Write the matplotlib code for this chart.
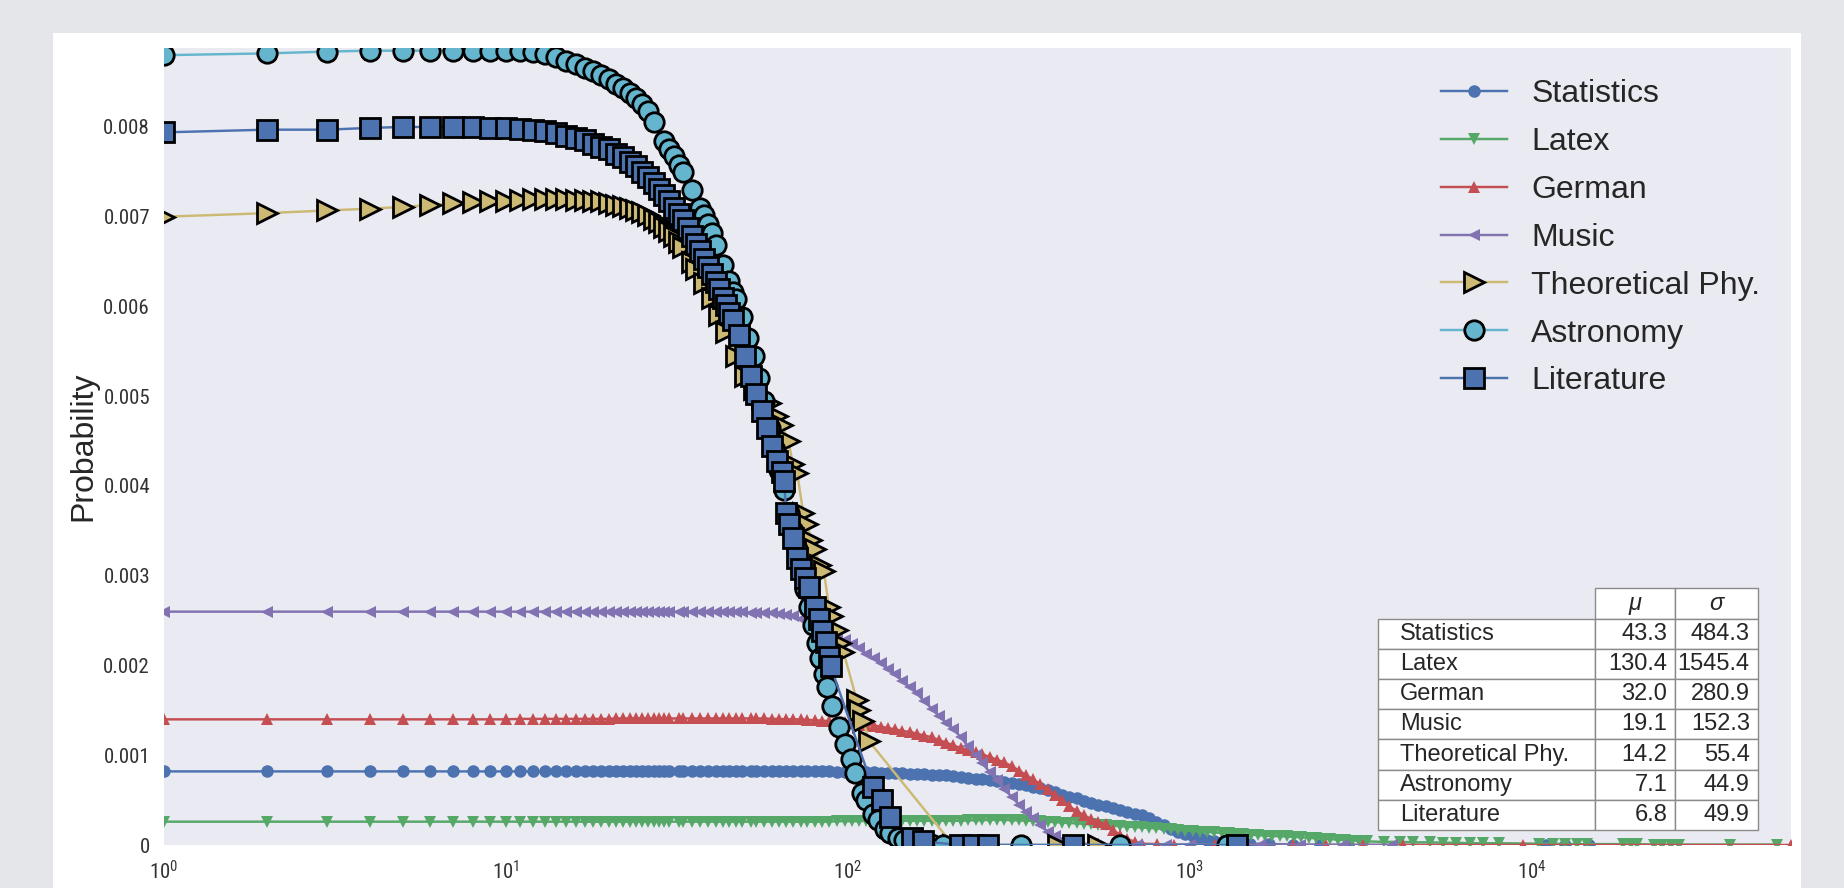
"""Probability curves per site (log x) with a small mu/sigma table, seaborn-dark look."""
import matplotlib
matplotlib.use("Agg")
import matplotlib.pyplot as plt
from matplotlib import font_manager
from matplotlib.patches import Rectangle
from matplotlib.table import Table
from matplotlib.ticker import FuncFormatter, NullLocator

# all y values below are typed in units of 1e-4
SCALE = 1e-4

# integer x positions shared by the four small-marker series
X_GRID = list(range(1, 31)) + [
    32, 33, 35, 37, 39, 41, 43, 45, 47, 49,
    52, 54, 57, 60, 63, 66, 69, 73, 76, 80,
    84, 88, 93, 98, 103, 108, 113, 119, 125, 131,
    137, 144, 152, 159, 167, 176, 184, 194, 203, 214,
    224, 236, 247, 260, 273, 286, 301, 316, 331, 348,
    365, 384, 403, 423, 444, 466, 490, 514, 540, 567,
    595, 625, 656, 689, 724, 760, 798, 838, 880, 924,
    970, 1018, 1069, 1123, 1179, 1238, 1300, 1365, 1433, 1505,
    1580, 1659, 1742, 1829, 1920, 2016, 2117, 2223, 2334, 2451,
    2573, 2702, 2837, 2979, 3128,
]

STAT_Y = [
    8.2, 8.2, 8.2, 8.2, 8.2, 8.2, 8.2, 8.2, 8.2, 8.2,
    8.2, 8.2, 8.2, 8.2, 8.2, 8.2, 8.2, 8.2, 8.2, 8.2,
    8.2, 8.2, 8.2, 8.2, 8.2, 8.2, 8.2, 8.2, 8.2, 8.2,
    8.2, 8.2, 8.2, 8.2, 8.2, 8.2, 8.2, 8.2, 8.2, 8.2,
    8.2, 8.2, 8.2, 8.2, 8.2, 8.2, 8.2, 8.2, 8.2, 8.2,
    8.2, 8.2, 8.15, 8.15, 8.1, 8.1, 8.1, 8.1, 8.05, 8.05,
    8.0, 8.0, 7.95, 7.9, 7.9, 7.85, 7.8, 7.75, 7.7, 7.6,
    7.5, 7.4, 7.3, 7.2, 7.1, 7.0, 6.9, 6.8, 6.65, 6.5,
    6.3, 6.1, 5.9, 5.6, 5.4, 5.2, 4.9, 4.7, 4.5, 4.3,
    4.1, 3.9, 3.7, 3.5, 3.3, 3.0, 2.6, 2.2, 1.8, 1.5,
    1.2, 1.0, 0.8, 0.6, 0.45, 0.35, 0.25,
]
STAT_TAIL_X = [1500, 1700, 2000, 2400, 2900, 11000, 12500, 14700]
STAT_TAIL_Y = [0.15, 0.1, 0.05, 0.02, 0.0, 0.0, 0.0, 0.0]

LATEX_Y = [
    2.6, 2.6, 2.6, 2.6, 2.6, 2.6, 2.6, 2.6, 2.6, 2.6,
    2.6, 2.6, 2.6, 2.6, 2.6, 2.6, 2.6, 2.6, 2.6, 2.6,
    2.6, 2.6, 2.6, 2.6, 2.6, 2.6, 2.6, 2.6, 2.6, 2.6,
    2.6, 2.6, 2.6, 2.6, 2.6, 2.6, 2.6, 2.6, 2.6, 2.6,
    2.6, 2.6, 2.6, 2.6, 2.6, 2.6, 2.6, 2.6, 2.6, 2.6,
    2.6, 2.6, 2.65, 2.65, 2.65, 2.65, 2.7, 2.7, 2.7, 2.7,
    2.7, 2.7, 2.7, 2.7, 2.7, 2.7, 2.7, 2.7, 2.7, 2.7,
    2.75, 2.75, 2.75, 2.8, 2.8, 2.8, 2.75, 2.75, 2.7, 2.7,
    2.65, 2.6, 2.55, 2.5, 2.45, 2.4, 2.35, 2.3, 2.25, 2.2,
    2.15, 2.1, 2.05, 2.0, 1.95, 1.9, 1.85, 1.8, 1.75, 1.7,
    1.6, 1.55, 1.5, 1.45, 1.4, 1.35, 1.3, 1.25, 1.2, 1.15,
    1.1, 1.05, 1.0, 0.98, 0.95, 0.9, 0.85, 0.8, 0.75, 0.7,
    0.65, 0.6, 0.55, 0.5, 0.45,
]
LATEX_TAIL_X = [3290, 3700, 4110, 4500, 5030, 5500, 6000, 6600, 7200, 8000,
                10500, 11500, 12500, 13500, 14500, 18500, 19500, 20300,
                22700, 24000, 25500, 27000, 38000, 52000]
LATEX_TAIL_Y = [0.4, 0.35, 0.35, 0.3, 0.3, 0.25, 0.25, 0.2, 0.2, 0.2,
                0.15, 0.15, 0.1, 0.1, 0.1, 0.1, 0.1, 0.1,
                0.05, 0.05, 0.05, 0.05, 0.05, 0.05]

GERMAN_Y = [
    14.0, 14.0, 14.0, 14.0, 14.0, 14.0, 14.0, 14.0, 14.0, 14.0,
    14.05, 14.05, 14.05, 14.05, 14.05, 14.05, 14.05, 14.05, 14.05, 14.05,
    14.1, 14.1, 14.1, 14.1, 14.1, 14.1, 14.1, 14.1, 14.1, 14.1,
    14.1, 14.1, 14.1, 14.1, 14.1, 14.1, 14.1, 14.1, 14.1, 14.1,
    14.1, 14.1, 14.1, 14.05, 14.05, 14.0, 14.0, 14.0, 13.95, 13.9,
    13.85, 13.8, 13.7, 13.65, 13.6, 13.5, 13.4, 13.3, 13.2, 13.0,
    12.9, 12.7, 12.6, 12.4, 12.2, 12.0, 11.7, 11.4, 11.1, 10.8,
    10.6, 10.4, 10.1, 9.8, 9.5, 9.2, 8.8, 8.3, 7.8, 7.3,
    6.8, 6.2, 5.6, 5.0, 4.3, 3.8, 3.3, 2.9, 2.6, 2.3,
    1.7, 1.1, 0.7, 0.35, 0.15,
]
GERMAN_TAIL_X = [800, 900, 1018, 1180, 1400, 1650, 2000, 2500, 3200, 4200, 9400, 57200]
GERMAN_TAIL_Y = [0.1, 0.05, 0.05, 0.0, 0.05, 0.0, 0.0, 0.0, 0.0, 0.0, 0.0, 0.0]

MUSIC_Y = [
    26.0, 26.0, 26.0, 26.0, 26.0, 26.0, 26.0, 26.0, 26.0, 26.0,
    26.0, 26.0, 26.0, 26.0, 26.0, 26.0, 26.0, 26.0, 26.0, 26.0,
    26.0, 26.0, 26.0, 26.0, 26.0, 26.0, 26.0, 26.0, 26.0, 26.0,
    26.0, 26.0, 26.0, 26.0, 26.0, 26.0, 26.0, 26.0, 26.0, 26.0,
    25.9, 25.9, 25.8, 25.8, 25.7, 25.6, 25.5, 25.2, 24.8, 24.4,
    24.0, 23.6, 23.2, 22.8, 22.4, 21.9, 21.3, 20.8, 20.3, 19.6,
    19.0, 18.3, 17.6, 16.9, 16.0, 15.2, 14.4, 13.6, 12.9, 12.0,
    11.0, 10.0, 9.1, 8.1, 7.2, 6.2, 5.4, 4.5, 3.7, 3.0,
    2.2, 1.5, 1.0, 0.6, 0.35, 0.2,
]
MUSIC_TAIL_X = [520, 600, 700, 850, 1000, 1250, 1600, 2100, 2800, 3900]
MUSIC_TAIL_Y = [0.1, 0.05, 0.05, 0.0, 0.05, 0.0, 0.03, 0.0, 0.0, 0.0]

THEO_X = list(range(1, 34)) + [
    35, 36, 38, 40, 42, 44, 47, 50, 53, 56,
    59, 62, 64, 67, 69, 71, 74, 76, 78, 80,
    83, 85, 88, 90, 93, 95, 97, 106, 108, 111,
    115, 203, 410, 540,
]
THEO_Y = [
    70.0, 70.4, 70.7, 70.9, 71.1, 71.3, 71.5, 71.6, 71.7, 71.8,
    71.9, 72.0, 72.0, 72.0, 72.0, 71.9, 71.9, 71.8, 71.7, 71.5,
    71.3, 71.2, 71.0, 70.8, 70.5, 70.2, 69.8, 69.4, 68.9, 68.4,
    67.8, 67.2, 66.6,
    65.0, 64.2, 62.6, 61.0, 59.0, 57.2, 54.5, 52.2, 50.8, 49.8,
    49.2, 47.8, 46.8, 45.0, 42.4, 41.5, 37.0, 35.8, 34.0, 33.0,
    31.2, 30.5, 26.5, 25.5, 24.0, 22.5, 21.5, 16.2, 15.0, 13.8,
    11.6, 0.0, 0.0, 0.0,
]

ASTRO_X = list(range(1, 28)) + [
    29, 30, 31, 32, 33, 35, 37, 38, 39, 40,
    41, 43, 45, 46, 47, 49,
    51, 53, 55, 57, 59, 61, 63, 65, 67, 69,
    71, 73, 75, 77, 79, 81, 83, 85, 87,
    90, 94, 98, 102, 105, 110, 113, 118, 122, 128,
    133, 140, 146, 159, 175, 190,
    320, 624, 1283,
]
ASTRO_Y = [
    88.0, 88.2, 88.4, 88.5, 88.5, 88.5, 88.5, 88.5, 88.5, 88.5,
    88.5, 88.3, 88.1, 87.8, 87.4, 87.0, 86.6, 86.2, 85.8, 85.3,
    84.8, 84.3, 83.8, 83.2, 82.6, 81.8, 80.6,
    78.4, 77.6, 76.8, 75.8, 75.0, 73.0, 71.0, 70.2, 69.2, 68.2,
    66.9, 64.6, 62.8, 61.6, 60.8, 58.8,
    56.5, 54.5, 52.0, 49.5, 46.5, 44.0, 41.8, 39.5, 37.0, 35.0,
    33.0, 30.5, 28.5, 26.5, 24.5, 22.5, 20.8, 19.0, 17.6,
    15.5, 13.1, 11.2, 9.6, 8.0, 5.8, 5.0, 3.5, 2.8, 1.8,
    1.3, 0.8, 0.6, 0.2, 0.1, 0.05,
    0.0, 0.0, 0.0,
]

LIT_X = list(range(1, 47)) + [
    48, 50, 52, 54, 56, 58, 60, 62, 64, 65,
    66, 67, 69, 71, 73, 75, 77, 80, 82, 84,
    86, 88, 89, 118, 126, 133, 154, 166, 212, 232,
    257, 456, 1372,
]
LIT_Y = [
    79.4, 79.7, 79.7, 79.9, 80.0, 80.0, 80.0, 80.0, 79.9, 79.9,
    79.8, 79.7, 79.5, 79.3, 79.0, 78.8, 78.5, 78.1, 77.8, 77.5,
    77.0, 76.6, 76.1, 75.6, 75.0, 74.4, 73.8, 73.1, 72.4, 71.7,
    71.0, 70.3, 69.6, 68.7, 67.8, 67.0, 66.2, 65.3, 64.4, 63.6,
    62.7, 61.9, 61.0, 60.2, 59.3, 58.5,
    56.8, 54.5, 52.2, 50.2, 48.4, 46.5, 44.5, 42.8, 41.6, 40.6,
    37.0, 35.8, 34.2, 32.0, 30.8, 29.8, 28.8, 26.5, 25.2, 23.8,
    22.6, 21.0, 19.9, 6.5, 5.0, 3.1, 0.8, 0.4, 0.0, 0.0,
    0.0, 0.0, 0.0,
]

NAMES = ["Statistics", "Latex", "German", "Music",
         "Theoretical Phy.", "Astronomy", "Literature"]
MU = [43.3, 130.4, 32.0, 19.1, 14.2, 7.1, 6.8]
SIGMA = [484.3, 1545.4, 280.9, 152.3, 55.4, 44.9, 49.9]

YTICKS = [0, 0.001, 0.002, 0.003, 0.004, 0.005, 0.006, 0.007, 0.008]

# old seaborn "deep" palette
DEEP = ["#4C72B0", "#55A868", "#C44E52", "#8172B2", "#CCB974", "#64B5CD"]
TEXT = "#262626"
MAIN_FONT = "Liberation Sans"


def pick_tick_font():
    """The ticks in the original use a narrow sans; take one if installed."""
    fonts = font_manager.fontManager.ttflist
    names = {f.name for f in fonts}
    for n in ("Liberation Sans Narrow", "Roboto Condensed", "Open Sans Condensed",
              "Noto Sans Condensed", "DejaVu Sans Condensed"):
        if n in names:
            return n, "normal", 15
    for n in ("Liberation Sans", "Roboto", "Noto Sans", "Open Sans", "DejaVu Sans"):
        for f in fonts:
            if f.name == n and f.style == "normal" and f.stretch in ("condensed", "semi-condensed"):
                return n, f.stretch, 15
    return "Liberation Sans", "normal", 13


TICK_FONT, TICK_STRETCH, TICK_SIZE = pick_tick_font()
plt.rcParams["font.family"] = [TICK_FONT, "DejaVu Sans"]
plt.rcParams["font.stretch"] = TICK_STRETCH

W, H = 1844, 888
fig = plt.figure(figsize=(W / 100, H / 100), dpi=100, facecolor="#E5E6EA")
# white image area inside the grey page
fig.add_artist(Rectangle((53 / W, 0), (1801 - 53) / W, (H - 33) / H,
                         transform=fig.transFigure, facecolor="white",
                         edgecolor="none", zorder=-5))
ax = fig.add_axes([164 / W, (H - 845) / H, 1627 / W, 797 / H])
ax.set_facecolor("#EAEAF2")
for s in ax.spines.values():
    s.set_visible(False)


def scaled(vals):
    return [v * SCALE for v in vals]


small = [
    ("Statistics", X_GRID[:len(STAT_Y)] + STAT_TAIL_X, STAT_Y + STAT_TAIL_Y, "o", DEEP[0]),
    ("Latex", X_GRID[:len(LATEX_Y)] + LATEX_TAIL_X, LATEX_Y + LATEX_TAIL_Y, "v", DEEP[1]),
    ("German", X_GRID[:len(GERMAN_Y)] + GERMAN_TAIL_X, GERMAN_Y + GERMAN_TAIL_Y, "^", DEEP[2]),
    ("Music", X_GRID[:len(MUSIC_Y)] + MUSIC_TAIL_X, MUSIC_Y + MUSIC_TAIL_Y, "<", DEEP[3]),
]
big = [
    ("Theoretical Phy.", THEO_X, THEO_Y, ">", DEEP[4]),
    ("Astronomy", ASTRO_X, ASTRO_Y, "o", DEEP[5]),
    ("Literature", LIT_X, LIT_Y, "s", DEEP[0]),
]

for name, xs, ys, m, c in small:
    ax.plot(xs, scaled(ys), marker=m, ms=9, mew=0, lw=1.75, color=c, label=name)
for name, xs, ys, m, c in big:
    ax.plot(xs, scaled(ys), marker=m, ms=14, mew=2, mec="black", lw=1.75,
            color=c, label=name)

ax.set_xscale("log")
ax.set_xlim(1, 57200)
ax.set_ylim(0, 0.00888)
ax.xaxis.set_minor_locator(NullLocator())
ax.set_yticks(YTICKS)
ax.yaxis.set_major_formatter(FuncFormatter(lambda v, _: "0" if v == 0 else f"{v:.3f}"))
ax.tick_params(which="both", length=0, labelsize=TICK_SIZE, labelcolor="#333333")
ax.tick_params(axis="y", pad=10)
ax.tick_params(axis="x", pad=11)

ax.set_ylabel("Probability", fontsize=23, family=MAIN_FONT, stretch="normal", color=TEXT)
ax.yaxis.set_label_coords(-0.0406, 0.5)

leg = ax.legend(loc="upper left", bbox_to_anchor=(0.777, 0.977), borderaxespad=0,
                frameon=False,
                prop={"family": MAIN_FONT, "size": 23, "stretch": "normal"},
                labelspacing=0.56, handlelength=2.07, handletextpad=0.75,
                borderpad=0.4)
for t in leg.get_texts():
    t.set_color(TEXT)

# mu / sigma table, lower right
col_w = [0.1334, 0.0492, 0.0510]
row_h = 0.0379
tab = Table(ax, bbox=[0.7462, 0.0188, sum(col_w), row_h * (len(NAMES) + 1)])
EDGE = "#8a8a8a"
for j, head in ((1, "μ"), (2, "σ")):
    cell = tab.add_cell(0, j, col_w[j], row_h, text=head, loc="center",
                        facecolor="white", edgecolor=EDGE)
    cell.get_text().set_fontstyle("italic")
for i, name in enumerate(NAMES, start=1):
    tab.add_cell(i, 0, col_w[0], row_h, text=name, loc="left",
                 facecolor="white", edgecolor=EDGE)
    tab.add_cell(i, 1, col_w[1], row_h, text=f"{MU[i - 1]:.1f}", loc="right",
                 facecolor="white", edgecolor=EDGE)
    tab.add_cell(i, 2, col_w[2], row_h, text=f"{SIGMA[i - 1]:.1f}", loc="right",
                 facecolor="white", edgecolor=EDGE)
tab.auto_set_font_size(False)
tab.set_fontsize(17)
for cell in tab.get_celld().values():
    cell.get_text().set_fontfamily(MAIN_FONT)
    cell.get_text().set_fontstretch("normal")
    cell.get_text().set_color(TEXT)
    cell.set_linewidth(1.0)
tab.set_zorder(5)
ax.add_table(tab)

fig.savefig("out.png", dpi=100, facecolor=fig.get_facecolor())
